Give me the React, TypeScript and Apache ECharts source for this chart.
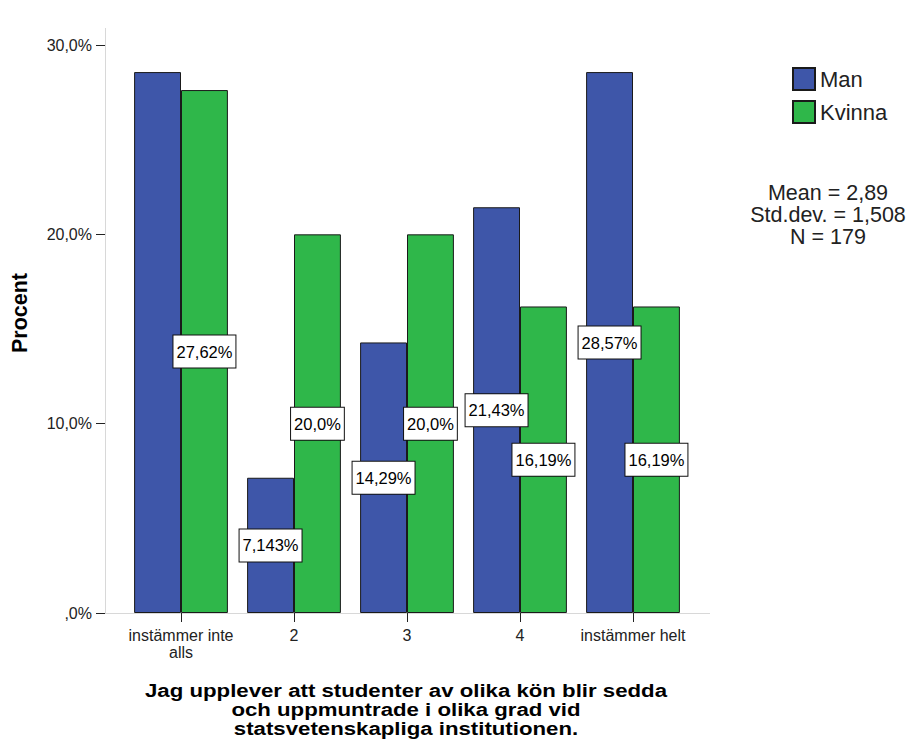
import React, { useEffect, useRef } from "react";
import * as echarts from "echarts";

const categories = ["instämmer inte\nalls", "2", "3", "4", "instämmer helt"];
const manValues = [28.57, 7.143, 14.29, 21.43, 28.57];
const kvinnaValues = [27.62, 20.0, 20.0, 16.19, 16.19];
const manLabels = ["", "7,143%", "14,29%", "21,43%", "28,57%"];
const kvinnaLabels = ["27,62%", "20,0%", "20,0%", "16,19%", "16,19%"];
const yTickLabels = [",0%", "10,0%", "20,0%", "30,0%"];
const statsLines = ["Mean = 2,89", "Std.dev. = 1,508", "N = 179"];
const xTitleLines = [
  "Jag upplever att studenter av olika kön blir sedda",
  "och uppmuntrade i olika grad vid",
  "statsvetenskapliga institutionen.",
];
const yTitle = "Procent";

const BLUE = "#3e56a9";
const GREEN = "#2fb74a";
const SANS = "Arial, 'Liberation Sans', sans-serif";

export default function App() {
  const ref = useRef<HTMLDivElement>(null);
  useEffect(() => {
    if (!ref.current) return;
    const chart = echarts.init(ref.current, null, { renderer: "svg" });
    const labelStyle = {
      show: true,
      position: "inside" as const,
      color: "#000",
      fontFamily: SANS,
      fontSize: 16.5,
      lineHeight: 20,
      backgroundColor: "#fff",
      borderColor: "#111",
      borderWidth: 1,
      padding: [6, 3, 6, 3],
    };
    const makeData = (vals: number[], labels: string[]) =>
      vals.map((v, i) => ({
        value: v,
        label: { ...labelStyle, show: labels[i] !== "", formatter: labels[i] || " " },
      }));
    chart.setOption({
      animation: false,
      backgroundColor: "#fff",
      grid: { left: 124.5, width: 565, top: 45, height: 568, outerBoundsMode: "none", containLabel: false },
      legend: {
        orient: "vertical",
        left: 792,
        top: 67,
        padding: 0,
        itemWidth: 22,
        itemHeight: 22,
        itemGap: 9,
        icon: "rect",
        textStyle: { fontFamily: SANS, fontSize: 22, color: "#222" },
        data: ["Man", "Kvinna"],
      },
      xAxis: {
        type: "category",
        data: categories,
        axisLine: { show: false },
        axisTick: { show: true, alignWithLabel: true, length: 9, lineStyle: { color: "#222" } },
        axisLabel: { interval: 0, fontFamily: SANS, fontSize: 16, color: "#222", lineHeight: 17, margin: 14 },
      },
      yAxis: {
        type: "value",
        min: 0,
        max: 30,
        interval: 10,
        offset: 19.5,
        axisLine: { show: false },
        axisTick: { show: true, length: 9, lineStyle: { color: "#222" } },
        splitLine: { show: false },
        axisLabel: {
          fontFamily: SANS,
          fontSize: 16,
          color: "#222",
          margin: 13,
          formatter: (v: number) => yTickLabels[Math.round(v / 10)],
        },
      },
      graphic: [
        { type: "line", shape: { x1: 105.5, y1: 28, x2: 105.5, y2: 613 }, style: { stroke: "#d8d8d8", lineWidth: 1 }, z: 0 },
        { type: "line", shape: { x1: 105, y1: 613.5, x2: 710, y2: 613.5 }, style: { stroke: "#d8d8d8", lineWidth: 1 }, z: 0 },
        {
          type: "text",
          x: 828,
          y: 182,
          style: {
            text: statsLines.join("\n"),
            fontFamily: SANS,
            fontSize: 21.5,
            lineHeight: 22,
            fill: "#222",
            textAlign: "center",
            textVerticalAlign: "top",
          },
        },
        {
          type: "text",
          x: 406,
          y: 680.5,
          scaleX: 1.17,
          style: {
            text: xTitleLines.join("\n"),
            fontFamily: SANS,
            fontWeight: "bold",
            fontSize: 19,
            lineHeight: 19,
            fill: "#000",
            textAlign: "center",
            textVerticalAlign: "top",
          },
        },
        {
          type: "text",
          x: 20,
          y: 313,
          rotation: Math.PI / 2,
          style: {
            text: yTitle,
            fontFamily: SANS,
            fontWeight: "bold",
            fontSize: 21.5,
            fill: "#000",
            textAlign: "center",
            textVerticalAlign: "middle",
          },
        },
      ],
      series: [
        {
          name: "Man",
          type: "bar",
          data: makeData(manValues, manLabels),
          barGap: "0%",
          barCategoryGap: "17%",
          itemStyle: { color: BLUE, borderColor: "#1a1a1a", borderWidth: 1 },
        },
        {
          name: "Kvinna",
          type: "bar",
          data: makeData(kvinnaValues, kvinnaLabels),
          itemStyle: { color: GREEN, borderColor: "#1a1a1a", borderWidth: 1 },
        },
      ],
    });
    return () => chart.dispose();
  }, []);
  return (
    <div
      ref={ref}
      style={{ position: "absolute", left: 0, top: 0, width: 909, height: 742 }}
    />
  );
}
